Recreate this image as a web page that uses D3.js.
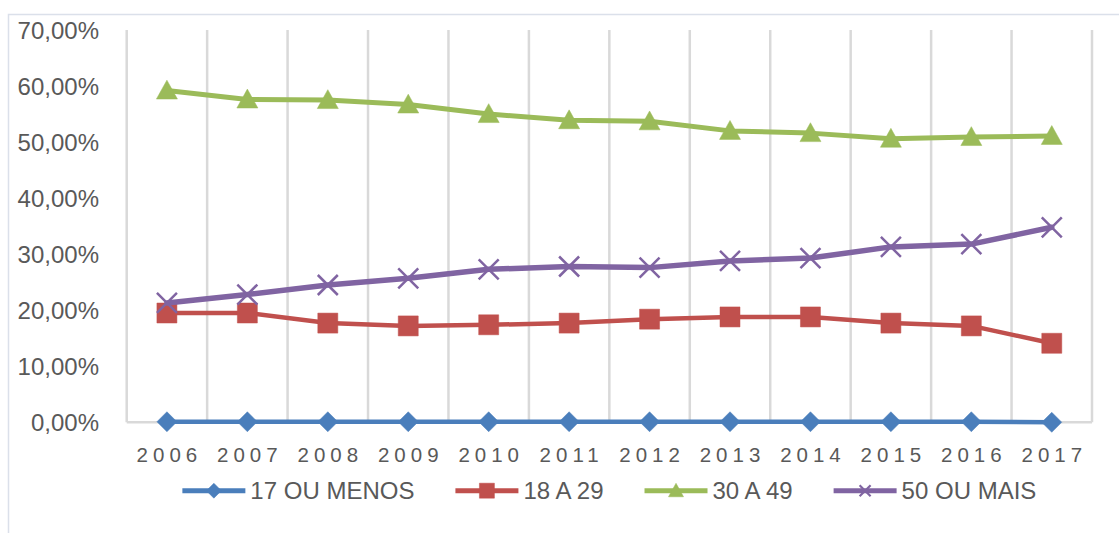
<!DOCTYPE html>
<html>
<head>
<meta charset="utf-8">
<script src="https://cdn.jsdelivr.net/npm/d3@7"></script>
<style>
  html, body { margin: 0; padding: 0; background: #ffffff; }
  svg { display: block; }
  text { font-family: "Liberation Sans", Arial, sans-serif; fill: #595959; }
</style>
</head>
<body>
<svg id="chart" width="1119" height="533"></svg>
<script>
// Share of each age group per year (%)
const years = ["2006","2007","2008","2009","2010","2011","2012","2013","2014","2015","2016","2017"];
const ate17    = [0.1, 0.1, 0.1, 0.1, 0.1, 0.1, 0.1, 0.1, 0.1, 0.1, 0.1, 0.0];
const de18a29  = [19.5, 19.5, 17.7, 17.2, 17.4, 17.7, 18.4, 18.8, 18.8, 17.7, 17.2, 14.1];
const de30a49  = [59.2, 57.6, 57.5, 56.7, 55.0, 53.9, 53.7, 52.0, 51.6, 50.6, 50.9, 51.1];
const de50mais = [21.3, 22.8, 24.5, 25.7, 27.3, 27.8, 27.6, 28.8, 29.3, 31.3, 31.8, 34.8];
const seriesNames = ["17 OU MENOS", "18 A 29", "30 A 49", "50 OU MAIS"];
const yTicks = [0, 10, 20, 30, 40, 50, 60, 70];

const series = [
  { name: seriesNames[0], values: ate17,    color: "#4a7ebb", marker: "diamond",  width: 4.5 },
  { name: seriesNames[1], values: de18a29,  color: "#c0504d", marker: "square",   width: 4.5 },
  { name: seriesNames[2], values: de30a49,  color: "#9bbb59", marker: "triangle", width: 5 },
  { name: seriesNames[3], values: de50mais, color: "#8064a2", marker: "cross",    width: 5.5 }
];

const svg = d3.select("#chart");
const plot = { left: 126.7, right: 1092, top: 30, bottom: 422.3 };

const x = d3.scaleBand().domain(years).range([plot.left, plot.right]).padding(0);
const y = d3.scaleLinear().domain([0, 70]).range([plot.bottom, plot.top]);

const ptBR = d3.formatLocale({ decimal: ",", thousands: ".", grouping: [3], currency: ["R$", ""] });
const pct = v => ptBR.format(".2f")(v) + "%";

// Outer chart frame
svg.append("rect")
  .attr("x", 8.5).attr("y", 14.5)
  .attr("width", 1130).attr("height", 540)
  .attr("fill", "none").attr("stroke", "#dbe0ea").attr("stroke-width", 1.5);

// Vertical gridlines at category boundaries
const edges = years.map(d => x(d)).concat([x(years[years.length - 1]) + x.bandwidth()]);
svg.append("g").selectAll("line").data(edges).join("line")
  .attr("x1", d => d).attr("x2", d => d)
  .attr("y1", y(70)).attr("y2", y(0))
  .attr("stroke", "#d9d9d9").attr("stroke-width", 2.5);

// Category axis line
svg.append("line")
  .attr("x1", plot.left).attr("x2", plot.right)
  .attr("y1", y(0)).attr("y2", y(0))
  .attr("stroke", "#d9d9d9").attr("stroke-width", 2.5);

// Value axis labels
const yAxis = svg.append("g")
  .attr("transform", `translate(99,0)`)
  .call(d3.axisLeft(y).tickValues(yTicks).tickFormat(pct).tickSize(0).tickPadding(0));
yAxis.select(".domain").remove();
yAxis.selectAll("text")
  .attr("font-family", "Liberation Sans, Arial, sans-serif")
  .attr("font-size", 24).attr("fill", "#595959")
  .attr("dy", "0.36em");

// Category axis labels
const xAxis = svg.append("g")
  .attr("transform", `translate(2.5,${y(0)})`)
  .call(d3.axisBottom(x).tickSize(0).tickPadding(0));
xAxis.select(".domain").remove();
xAxis.selectAll("text")
  .attr("font-family", "Liberation Sans, Arial, sans-serif")
  .attr("font-size", 20.5).attr("fill", "#595959")
  .attr("letter-spacing", 5)
  .attr("dy", null)
  .attr("y", 40);

// Marker shapes
function markerPath(type, s) {
  const h = s / 2;
  switch (type) {
    case "diamond": return `M0,${-h}L${h},0L0,${h}L${-h},0Z`;
    case "square": return `M${-h},${-h}H${h}V${h}H${-h}Z`;
    case "triangle": {
      const th = s * 0.9;
      return `M0,${-th * 0.55}L${h},${th * 0.45}L${-h},${th * 0.45}Z`;
    }
    case "cross": return `M${-h},${-h}L${h},${h}M${-h},${h}L${h},${-h}`;
  }
}
function drawMarker(sel, s, color) {
  sel.attr("d", d => markerPath(d.marker || d, s));
}

const cx = d => x(d) + x.bandwidth() / 2;
const line = d3.line().x((v, i) => cx(years[i])).y(v => y(v));

const gSeries = svg.append("g").selectAll("g").data(series).join("g");
gSeries.append("path")
  .attr("d", d => line(d.values))
  .attr("fill", "none")
  .attr("stroke", d => d.color)
  .attr("stroke-width", d => d.width)
  .attr("stroke-linejoin", "round")
  .attr("stroke-linecap", "round");

gSeries.each(function (s) {
  d3.select(this).selectAll("path.mk").data(s.values).join("path")
    .attr("class", "mk")
    .attr("transform", (v, i) => `translate(${cx(years[i])},${y(v)})`)
    .attr("d", markerPath(s.marker, s.marker === "triangle" ? 21 : 20))
    .attr("fill", s.marker === "cross" ? "none" : s.color)
    .attr("stroke", s.color)
    .attr("stroke-width", s.marker === "cross" ? 2.5 : 0.5);
});

// Legend
const legY = 490.7;
const legend = svg.append("g");
const items = legend.selectAll("g").data(series).join("g");
items.append("line")
  .attr("x1", 0).attr("x2", 63).attr("y1", 0).attr("y2", 0)
  .attr("stroke", d => d.color).attr("stroke-width", 5);
items.append("path")
  .attr("transform", "translate(31.5,0)")
  .attr("d", d => markerPath(d.marker, d.marker === "cross" ? 11 : 15))
  .attr("fill", d => d.marker === "cross" ? "none" : d.color)
  .attr("stroke", d => d.color)
  .attr("stroke-width", d => d.marker === "cross" ? 2.2 : 0.5);
items.append("text")
  .attr("x", 68).attr("y", 8.6)
  .attr("font-size", 24)
  .text(d => d.name);

let widths = [];
items.each(function () { widths.push(this.querySelector("text").getComputedTextLength() + 68); });
const gap = 41;
const total = d3.sum(widths) + gap * (widths.length - 1);
let start = (plot.left + plot.right) / 2 - total / 2;
items.attr("transform", (d, i) => {
  const tx = start + d3.sum(widths.slice(0, i)) + gap * i;
  return `translate(${tx},${legY})`;
});
</script>
</body>
</html>
